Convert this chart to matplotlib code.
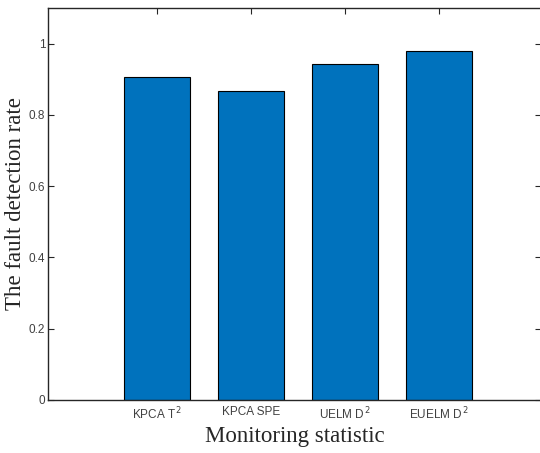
import matplotlib
matplotlib.use("Agg")
import matplotlib.pyplot as plt
import numpy as np

# data
statistics = ["KPCA T$^{\\,2}$", "KPCA SPE", "UELM D$^{\\,2}$", "EUELM D$^{\\,2}$"]
detection_rate = [0.906, 0.868, 0.942, 0.978]
ytick_values = [0, 0.2, 0.4, 0.6, 0.8, 1]
ytick_labels = ["0", "0.2", "0.4", "0.6", "0.8", "1"]

axis_grey = "#262626"
label_grey = "#404040"

fig = plt.figure(figsize=(5.4, 4.53), dpi=100)
ax = fig.add_axes([48 / 540, 53 / 453, 493 / 540, 392 / 453])

pos = np.arange(1, len(statistics) + 1)
ax.bar(pos, detection_rate, width=0.7, color="#0072BD",
       edgecolor="black", linewidth=0.8, zorder=2)

# x range so bars land where the reference has them
ax.set_xlim(1 - 108.7 / 94, 1 + (541 - 156.7) / 94)
ax.set_ylim(0, 1.1)

ax.set_xticks(pos)
ax.set_xticklabels(statistics, fontsize=8.5, color=label_grey,
                   family="Liberation Sans")
ax.set_yticks(ytick_values)
ax.set_yticklabels(ytick_labels, fontsize=8.5, color=label_grey,
                   family="Liberation Sans")

ax.tick_params(direction="in", length=4, width=0.8, colors=axis_grey,
               top=True, right=True)
ax.tick_params(axis="x", labelcolor=label_grey, pad=4)
ax.tick_params(axis="y", labelcolor=label_grey, pad=2)
for s in ax.spines.values():
    s.set_linewidth(1.0)
    s.set_color(axis_grey)

ax.set_xlabel("Monitoring statistic", fontsize=16.5, family="Liberation Serif",
              color=axis_grey, labelpad=3)
ax.set_ylabel("The fault detection rate", fontsize=16.5,
              family="Liberation Serif", color=axis_grey, va="center")
ax.yaxis.set_label_coords(-32 / 493, 0.5)

fig.savefig("out.png", dpi=100)
